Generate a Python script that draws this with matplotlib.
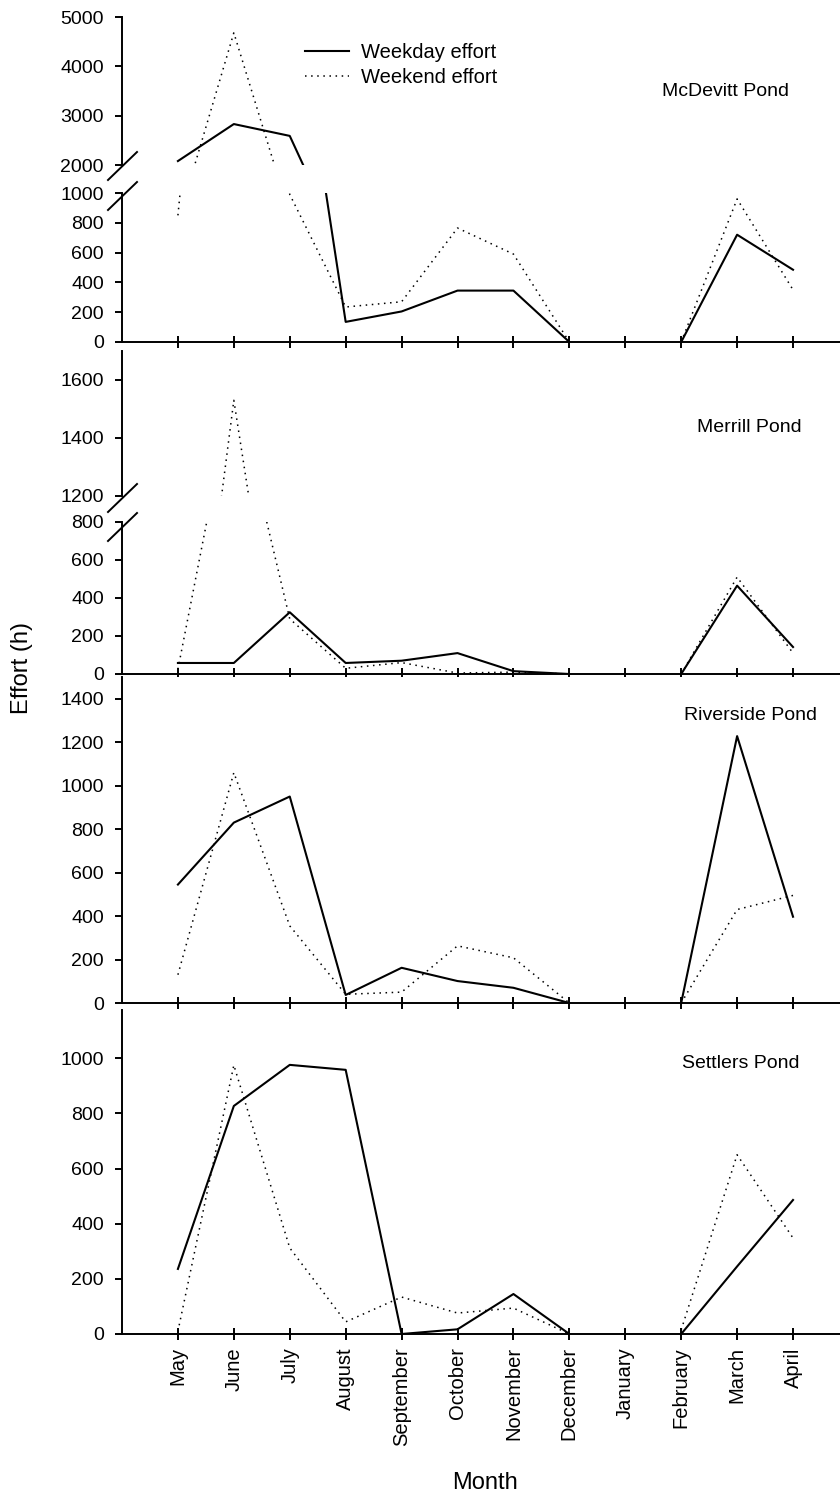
import numpy as np
import matplotlib.pyplot as plt
from matplotlib.lines import Line2D

plt.rcParams['font.family'] = ['Liberation Sans', 'DejaVu Sans']

nan = np.nan
months = ['May', 'June', 'July', 'August', 'September', 'October', 'November',
          'December', 'January', 'February', 'March', 'April']

mcdevitt_weekday = [2080, 2830, 2590, 135, 205, 345, 345, 0, nan, 0, 720, 485]
mcdevitt_weekend = [850, 4680, 990, 235, 270, 765, 590, 0, nan, 0, 960, 350]
merrill_weekday = [58, 58, 325, 58, 70, 110, 15, 0, nan, 0, 465, 142]
merrill_weekend = [25, 1530, 290, 30, 60, 5, 10, 0, nan, 0, 510, 110]
riverside_weekday = [545, 830, 950, 37, 162, 101, 70, 0, nan, 0, 1228, 397]
riverside_weekend = [130, 1060, 355, 40, 50, 263, 208, 0, nan, 0, 430, 495]
settlers_weekday = [236, 827, 976, 958, 0, 17, 145, 0, nan, 0, 245, 486]
settlers_weekend = [10, 975, 312, 44, 134, 76, 94, 0, nan, 15, 650, 348]

x = np.arange(len(months))

W, H = 840, 1495
fig = plt.figure(figsize=(W / 100, H / 100), dpi=100)


def px_axes(top, bottom, left=122, right=840):
    # axes placed by pixel rows/cols of the reference
    return fig.add_axes([left / W, 1 - bottom / H, (right - left) / W, (bottom - top) / H])


def style(ax, ylim, yticks, xaxis=True, labels=False):
    ax.set_xlim(-1, 11.84)
    ax.set_ylim(*ylim)
    ax.set_yticks(yticks)
    ax.spines['top'].set_visible(False)
    ax.spines['right'].set_visible(False)
    ax.spines['left'].set_linewidth(1.4)
    ax.spines['bottom'].set_linewidth(1.4)
    ax.tick_params(axis='y', direction='out', length=5, width=1.4, pad=8, labelsize=14)
    if xaxis:
        ax.set_xticks(x)
        ax.tick_params(axis='x', direction='inout', length=9, width=1.4, labelsize=14.5, pad=5)
        if labels:
            ax.set_xticklabels(months, rotation=90)
        else:
            ax.set_xticklabels([])
    else:
        ax.spines['bottom'].set_visible(False)
        ax.set_xticks([])


def plot(ax, wd, we):
    ax.plot(x, wd, color='black', lw=1.5, label='Weekday effort')
    ax.plot(x, we, color='black', lw=1.1, linestyle=(0, (1, 3)), label='Weekend effort')


def brk(yc):
    fig.add_artist(Line2D([108 / W, 137 / W], [1 - (yc + 14) / H, 1 - (yc - 14) / H],
                          color='black', lw=1.4))


# McDevitt
a1t = px_axes(17, 165)
a1b = px_axes(193, 342)
plot(a1t, mcdevitt_weekday, mcdevitt_weekend)
plot(a1b, mcdevitt_weekday, mcdevitt_weekend)
style(a1t, (2000, 5000), [2000, 3000, 4000, 5000], xaxis=False)
style(a1b, (0, 1000), range(0, 1001, 200))
brk(166)
brk(196)
a1t.legend(loc='upper left', bbox_to_anchor=(305 / W, 1 - 43 / H), bbox_transform=fig.transFigure,
           frameon=False, fontsize=14.5, borderpad=0, borderaxespad=0, handlelength=2.2,
           handletextpad=0.6, labelspacing=0.3)

# Merrill
a2t = px_axes(351, 496)
a2b = px_axes(522, 674)
plot(a2t, merrill_weekday, merrill_weekend)
plot(a2b, merrill_weekday, merrill_weekend)
style(a2t, (1200, 1700), [1200, 1400, 1600], xaxis=False)
style(a2b, (0, 800), range(0, 801, 200))
brk(498)
brk(527)

# Riverside
a3 = px_axes(677, 1003)
plot(a3, riverside_weekday, riverside_weekend)
style(a3, (0, 1500), range(0, 1401, 200))

# Settlers
a4 = px_axes(1010, 1334)
plot(a4, settlers_weekday, settlers_weekend)
style(a4, (0, 1175), range(0, 1001, 200), labels=True)

for name, cx, cy in [('McDevitt Pond', 726, 92), ('Merrill Pond', 749, 427),
                     ('Riverside Pond', 750, 716), ('Settlers Pond', 741, 1063)]:
    fig.text(cx / W, 1 - cy / H, name, fontsize=14, ha='center', va='center')

fig.text(22 / W, 1 - 668 / H, 'Effort (h)', rotation=90, fontsize=17, ha='center', va='center')
fig.text(485 / W, 1 - 1483 / H, 'Month', fontsize=17, ha='center', va='center')

fig.savefig('out.png', dpi=100)
